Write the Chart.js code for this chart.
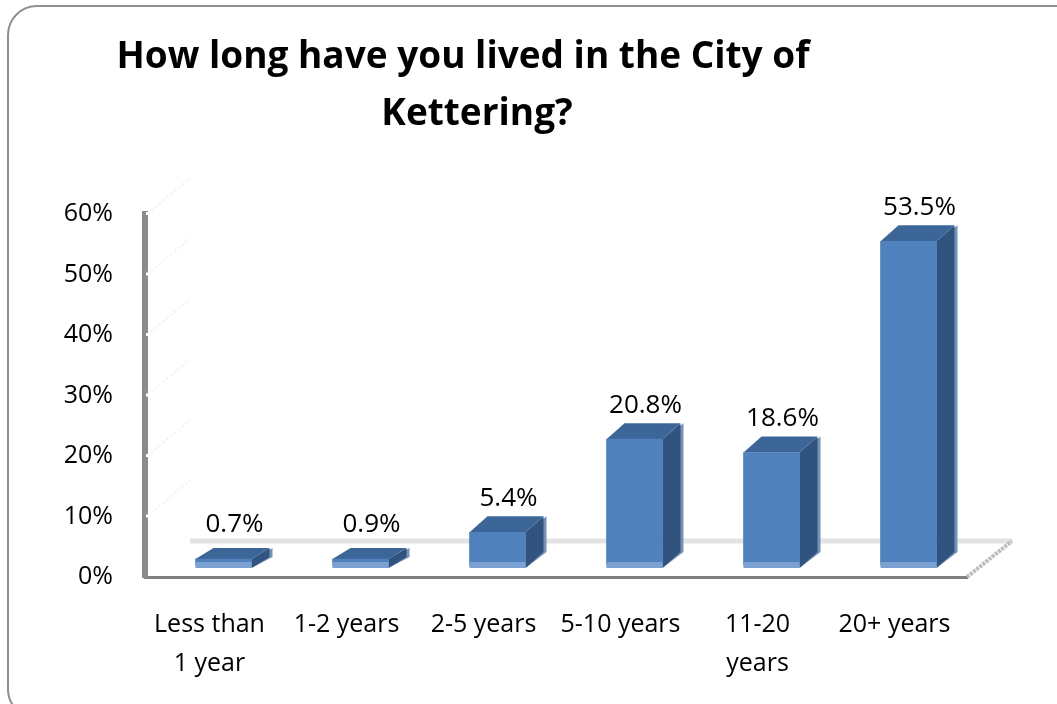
<!DOCTYPE html>
<html>
<head>
<meta charset="utf-8">
<title>How long have you lived in the City of Kettering?</title>
<script src="https://cdn.jsdelivr.net/npm/chart.js@4"></script>
<style>
    html, body { margin: 0; padding: 0; background: #fff; overflow: hidden; }
    #wrap { position: relative; width: 1057px; height: 704px; overflow: hidden; }
    #frame { position: absolute; left: 7px; top: 5px; width: 1080px; height: 710px; border: 2px solid #8f8f8f; border-radius: 30px; }
    #chart { position: absolute; left: 0; top: 0; }
</style>
</head>
<body>
<div id="wrap">
    <div id="frame"></div>
    <canvas id="chart" width="1057" height="704"></canvas>
</div>
<script>
const titleLines = ["How long have you lived in the City of", "Kettering?"];
const categories = [["Less than", "1 year"], "1-2 years", "2-5 years", "5-10 years", ["11-20", "years"], "20+ years"];
const shares = [0.7, 0.9, 5.4, 20.8, 18.6, 53.5];
const shareLabels = ["0.7%", "0.9%", "5.4%", "20.8%", "18.6%", "53.5%"];

const FONT = '"Open Sans", sans-serif';

// Bars sit on a floor raised and pushed back from the axes, as in a 3-D column chart.
const shiftX = 10;
const shiftY = -12;
const depthX = 18;
const depthY = 16;
const floorX = 45;
const floorY = 36;

function polygon(ctx, points, colour) {
    ctx.fillStyle = colour;
    ctx.beginPath();
    points.forEach(function (p, i) {
        if (i === 0) {
            ctx.moveTo(p[0], p[1]);
        } else {
            ctx.lineTo(p[0], p[1]);
        }
    });
    ctx.closePath();
    ctx.fill();
}

const column3d = {
    id: "column3d",

    beforeDatasetsDraw: function (chart) {
        const ctx = chart.ctx;
        const area = chart.chartArea;

        // faint side wall lines, with a nick in the axis at each tick
        ctx.save();
        chart.scales.y.ticks.forEach(function (tick) {
            const y = chart.scales.y.getPixelForValue(tick.value);
            if (tick.value > 0) {
                ctx.strokeStyle = "#f4f4f4";
                ctx.lineWidth = 2;
                ctx.setLineDash([3, 2]);
                ctx.beginPath();
                ctx.moveTo(area.left + 2, y);
                ctx.lineTo(area.left + floorX, y - floorY);
                ctx.stroke();
                ctx.setLineDash([]);
                ctx.fillStyle = "#fff";
                ctx.fillRect(area.left + 1, y - 2, 3, 3);
            }
        });
        ctx.restore();

        // back edge of the floor and its side
        ctx.save();
        ctx.strokeStyle = "#e3e3e3";
        ctx.lineWidth = 5;
        ctx.beginPath();
        ctx.moveTo(area.left + floorX, area.bottom - floorY);
        ctx.lineTo(area.right + floorX, area.bottom - floorY);
        ctx.stroke();
        ctx.strokeStyle = "#bdbdbd";
        ctx.lineWidth = 4;
        ctx.setLineDash([3, 1]);
        ctx.beginPath();
        ctx.moveTo(area.right, area.bottom);
        ctx.lineTo(area.right + floorX, area.bottom - floorY);
        ctx.stroke();
        ctx.restore();

        ctx.save();
        ctx.translate(shiftX, shiftY);
        chart.getDatasetMeta(0).data.forEach(function (bar, i) {
            const left = bar.x - bar.width / 2;
            const right = bar.x + bar.width / 2;
            const dy = shares[i] < 2 ? 11 : depthY;
            const bottom = bar.base + 3;
            polygon(ctx, [[right, bar.y], [right + depthX + 3, bar.y - dy], [right + depthX + 3, bottom - dy], [right, bottom]], "#7492b8");
            polygon(ctx, [[right, bar.y], [right + depthX, bar.y - dy], [right + depthX, bottom - dy], [right, bottom]], "#31547f");
            polygon(ctx, [[left, bar.y], [left + depthX, bar.y - dy], [right + depthX, bar.y - dy], [right, bar.y]], "#3d6698");
        });
    },

    afterDatasetsDraw: function (chart) {
        const ctx = chart.ctx;
        const bars = chart.getDatasetMeta(0).data;

        bars.forEach(function (bar) {
            const left = bar.x - bar.width / 2;
            ctx.fillStyle = "#7ba1d2";
            ctx.fillRect(left, bar.base - 3, bar.width, 6);
        });
        ctx.restore();

        ctx.fillStyle = "#000";
        ctx.font = "26px " + FONT;
        ctx.textAlign = "center";
        ctx.textBaseline = "middle";
        bars.forEach(function (bar, i) {
            ctx.fillText(shareLabels[i], bar.x + shiftX + 11, bar.y + shiftY - 34);
        });

        ctx.font = "bold 37px " + FONT;
        ctx.fillText(titleLines[0], 463, 57);
        ctx.fillText(titleLines[1], 477, 114);
    }
};

new Chart(document.getElementById("chart"), {
    type: "bar",
    data: {
        labels: categories,
        datasets: [{
            data: shares,
            backgroundColor: "#4f81bd",
            borderWidth: 0,
            barThickness: 56,
            minBarLength: 6,
            clip: false
        }]
    },
    options: {
        responsive: false,
        animation: false,
        layout: { padding: { left: 45, right: 90, top: 214, bottom: 17 } },
        plugins: { legend: { display: false }, tooltip: { enabled: false } },
        scales: {
            x: {
                grid: { display: false },
                border: { display: true, color: "#808080", width: 3 },
                ticks: { color: "#000", font: { family: FONT, size: 25, lineHeight: 1.56 }, labelOffset: -4, padding: 20, maxRotation: 0, autoSkip: false },
                afterFit: function (scale) { scale.height = 110; }
            },
            y: {
                min: 0,
                max: 60,
                grid: { display: false },
                border: { display: true, color: "#8c8c8c", width: 6 },
                ticks: { color: "#000", font: { family: FONT, size: 25 }, stepSize: 10, padding: 24, callback: function (v) { return v + "%"; } },
                afterFit: function (scale) { scale.width = 100; }
            }
        }
    },
    plugins: [column3d]
});
</script>
</body>
</html>
